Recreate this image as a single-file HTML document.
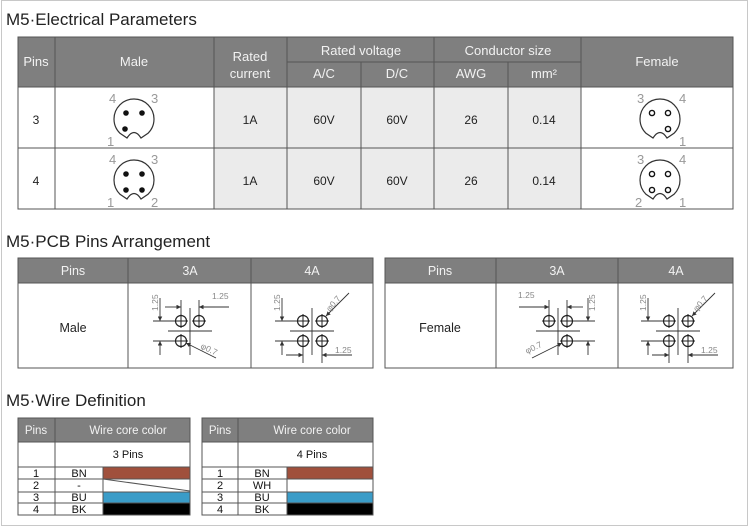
<!DOCTYPE html>
<html><head><meta charset="utf-8"><style>
html,body{margin:0;padding:0;background:#fff;}
svg{display:block;font-family:"Liberation Sans",sans-serif;}
</style></head><body>
<svg width="750" height="529" viewBox="0 0 750 529" xmlns="http://www.w3.org/2000/svg">
<defs>
<marker id="ar" viewBox="0 0 6 6" refX="6" refY="3" markerWidth="5" markerHeight="5" orient="auto"><path d="M0,0 L6,3 L0,6 Z" fill="#333"/></marker>
<g id="pinc"><circle r="5.5" fill="none" stroke="#222" stroke-width="1.2"/><path d="M-7,0H7M0,-7V7" stroke="#222" stroke-width="1"/></g>
<path id="conn" d="M-14,14.3 A20,20 0 1 1 14,14.3 L7,19 Q0,8 -7,19 Z" fill="none" stroke="#333" stroke-width="1.2"/>
<g id="g3a" stroke="#333" stroke-width="0.9" fill="none">
 <use href="#pinc" x="-9" y="-10"/><use href="#pinc" x="9" y="-10"/><use href="#pinc" x="-9" y="10"/>
 <path d="M0,-23V24M-22,0H22M-37,-10H-15M-37,10H-15M-9,-31V-17M9,-31V-17M39,-24H9"/>
 <path d="M-30,-33V-10" marker-end="url(#ar)"/><path d="M-30,24V10" marker-end="url(#ar)"/>
 <path d="M-25,-24H-9" marker-end="url(#ar)"/><path d="M25,-24H9" marker-end="url(#ar)"/>
 <path d="M26,27L-4,12" marker-end="url(#ar)"/>
</g>
<g id="g4a" stroke="#333" stroke-width="0.9" fill="none">
 <use href="#pinc" x="-9" y="-10"/><use href="#pinc" x="10" y="-10"/><use href="#pinc" x="-9" y="10"/><use href="#pinc" x="10" y="10"/>
 <path d="M0,-23V24M-22,0H22M-37,-10H-15M-37,10H-15M-9,16V32M10,16V32M40,24H10"/>
 <path d="M-30,-33V-10" marker-end="url(#ar)"/><path d="M-30,24V10" marker-end="url(#ar)"/>
 <path d="M-26,24H-9" marker-end="url(#ar)"/><path d="M26,24H10" marker-end="url(#ar)"/>
 <path d="M37,-38L14,-15" marker-end="url(#ar)"/>
</g>
</defs>
<rect x="1.5" y="0.5" width="746" height="525" fill="none" stroke="#c8c8c8"/>

<!-- Titles -->
<g font-size="17" fill="#222">
<text x="6" y="25">M5·Electrical Parameters</text>
<text x="6" y="247">M5·PCB Pins Arrangement</text>
<text x="6" y="406">M5·Wire Definition</text>
</g>

<!-- Table 1 -->
<rect x="18" y="37" width="715" height="50" fill="#7f7f7f"/>
<rect x="214" y="87" width="367" height="122" fill="#ebebeb"/>
<g stroke="#555" stroke-width="1" fill="none">
<rect x="18" y="37" width="715" height="172"/>
<path d="M18,87H733M18,148H733M287,62H581M55,37V209M214,37V209M287,37V209M434,37V209M581,37V209M361,62V209M508,62V209"/>
</g>
<g fill="#f2f2f2" font-size="13" text-anchor="middle">
<text x="36" y="66">Pins</text><text x="134" y="66">Male</text>
<text x="250" y="61">Rated</text><text x="250" y="78">current</text>
<text x="361" y="55">Rated voltage</text><text x="508" y="55">Conductor size</text>
<text x="324" y="78">A/C</text><text x="397" y="78">D/C</text>
<text x="471" y="78">AWG</text><text x="544" y="78">mm²</text>
<text x="657" y="66">Female</text>
</g>
<g fill="#222" font-size="12" text-anchor="middle">
<text x="36" y="124">3</text><text x="36" y="185">4</text>
<text x="250" y="124">1A</text><text x="324" y="124">60V</text><text x="397" y="124">60V</text><text x="471" y="124">26</text><text x="544" y="124">0.14</text>
<text x="250" y="185">1A</text><text x="324" y="185">60V</text><text x="397" y="185">60V</text><text x="471" y="185">26</text><text x="544" y="185">0.14</text>
</g>
<!-- connectors -->
<use href="#conn" x="134" y="119"/>
<g fill="#111"><circle cx="126" cy="113" r="2.8"/><circle cx="142" cy="113" r="2.8"/><circle cx="125" cy="129" r="2.8"/></g>
<use href="#conn" x="134" y="180"/>
<g fill="#111"><circle cx="126" cy="174" r="2.8"/><circle cx="142" cy="174" r="2.8"/><circle cx="126" cy="190" r="2.8"/><circle cx="142" cy="190" r="2.8"/></g>
<use href="#conn" x="660" y="119"/>
<g fill="none" stroke="#111" stroke-width="1.4"><circle cx="652" cy="113" r="2.6"/><circle cx="668" cy="113" r="2.6"/><circle cx="668" cy="129" r="2.6"/></g>
<use href="#conn" x="660" y="180"/>
<g fill="none" stroke="#111" stroke-width="1.4"><circle cx="652" cy="174" r="2.6"/><circle cx="668" cy="174" r="2.6"/><circle cx="652" cy="190" r="2.6"/><circle cx="668" cy="190" r="2.6"/></g>
<g fill="#999" font-size="13">
<text x="109" y="103">4</text><text x="151" y="103">3</text><text x="107" y="146">1</text>
<text x="109" y="164">4</text><text x="151" y="164">3</text><text x="107" y="207">1</text><text x="151" y="207">2</text>
<text x="637" y="103">3</text><text x="679" y="103">4</text><text x="679" y="146">1</text>
<text x="637" y="164">3</text><text x="679" y="164">4</text><text x="635" y="207">2</text><text x="679" y="207">1</text>
</g>

<!-- Table 2 -->
<rect x="18" y="258" width="355" height="25" fill="#7f7f7f"/>
<rect x="385" y="258" width="348" height="25" fill="#7f7f7f"/>
<g stroke="#555" stroke-width="1" fill="none">
<rect x="18" y="258" width="355" height="110"/>
<rect x="385" y="258" width="348" height="110"/>
<path d="M18,283H373M385,283H733M128,258V368M251,258V368M496,258V368M618,258V368"/>
</g>
<g fill="#f2f2f2" font-size="12.5" text-anchor="middle">
<text x="73" y="275">Pins</text><text x="190" y="275">3A</text><text x="312" y="275">4A</text>
<text x="440" y="275">Pins</text><text x="557" y="275">3A</text><text x="676" y="275">4A</text>
</g>
<g fill="#222" font-size="12.5" text-anchor="middle">
<text x="73" y="332">Male</text><text x="440" y="332">Female</text>
</g>
<use href="#g3a" transform="translate(190,331)"/>
<use href="#g4a" transform="translate(312,331)"/>
<use href="#g3a" transform="translate(558,331) scale(-1,1)"/>
<use href="#g4a" transform="translate(678,331)"/>
<g fill="#888" font-size="8.5">
<text transform="translate(158,311) rotate(-90)">1.25</text>
<text x="212" y="299">1.25</text>
<text transform="translate(200,348) rotate(26)">φ0.7</text>
<text transform="translate(280,311) rotate(-90)">1.25</text>
<text x="335" y="353">1.25</text>
<text transform="translate(330,312) rotate(-50)">φ0.7</text>
<text x="518" y="298">1.25</text>
<text transform="translate(595,311) rotate(-90)">1.25</text>
<text transform="translate(527,354) rotate(-26)">φ0.7</text>
<text transform="translate(646,311) rotate(-90)">1.25</text>
<text x="701" y="353">1.25</text>
<text transform="translate(697,312) rotate(-50)">φ0.7</text>
</g>

<!-- Table 3 -->
<rect x="18" y="418" width="172" height="24" fill="#7f7f7f"/>
<rect x="202" y="418" width="171" height="24" fill="#7f7f7f"/>
<rect x="103" y="467" width="87" height="12" fill="#a0503c"/>
<rect x="103" y="492" width="87" height="11" fill="#3a9cc8"/>
<rect x="103" y="503" width="87" height="12" fill="#000"/>
<rect x="287" y="467" width="86" height="12" fill="#a0503c"/>
<rect x="287" y="492" width="86" height="11" fill="#3a9cc8"/>
<rect x="287" y="503" width="86" height="12" fill="#000"/>
<g stroke="#555" stroke-width="1" fill="none">
<rect x="18" y="418" width="172" height="97"/>
<rect x="202" y="418" width="171" height="97"/>
<path d="M18,442H190M18,467H190M18,479H190M18,492H190M18,503H190M55,418V467M55,467V515M103,467V515M103,479L190,491"/>
<path d="M202,442H373M202,467H373M202,479H373M202,492H373M202,503H373M238,418V467M238,467V515M287,467V515"/>
</g>
<g fill="#f2f2f2" font-size="11.5" text-anchor="middle">
<text x="36" y="434">Pins</text><text x="128" y="434">Wire core color</text>
<text x="220" y="434">Pins</text><text x="312" y="434">Wire core color</text>
</g>
<g fill="#111" font-size="11" text-anchor="middle">
<text x="128" y="458">3 Pins</text><text x="312" y="458">4 Pins</text>
<text x="36" y="477">1</text><text x="79" y="477">BN</text>
<text x="36" y="489">2</text><text x="79" y="489">-</text>
<text x="36" y="501">3</text><text x="79" y="501">BU</text>
<text x="36" y="513">4</text><text x="79" y="513">BK</text>
<text x="220" y="477">1</text><text x="262" y="477">BN</text>
<text x="220" y="489">2</text><text x="262" y="489">WH</text>
<text x="220" y="501">3</text><text x="262" y="501">BU</text>
<text x="220" y="513">4</text><text x="262" y="513">BK</text>
</g>
</svg>
</body></html>
